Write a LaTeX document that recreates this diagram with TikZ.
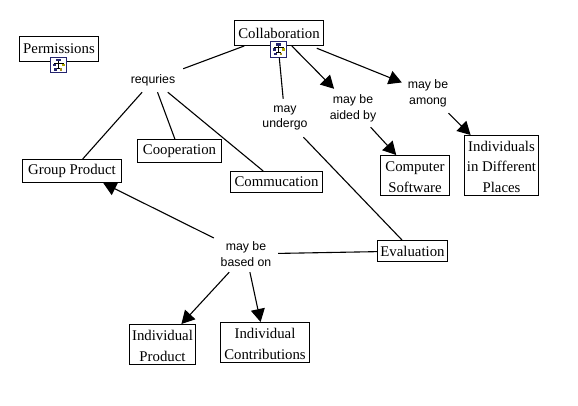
\documentclass[tikz,border=0pt]{standalone}
\usepackage{fontspec}
\setmainfont{Liberation Serif}
\newfontfamily\lblfont{Liberation Sans}
\usetikzlibrary{arrows.meta}
\definecolor{iconnavy}{RGB}{36,36,110}
\tikzset{
  x=1pt,y=-1pt,
  concept/.style={draw=black,line width=1pt,fill=white,inner sep=0pt,align=center,font=\fontsize{14.8}{20.5}\selectfont},
  linker/.style={inner sep=0pt,align=center,font=\lblfont\fontsize{12.3}{15.8}\selectfont},
  conn/.style={line width=1.1pt,black},
  arr/.style={conn,-{Triangle[length=13pt,width=14pt]}},
  iconbox/.style={draw=iconnavy,line width=0.9pt,fill=white,minimum width=15.5pt,minimum height=15.5pt,inner sep=0pt},
}
\newcommand{\topfix}{\rule{0pt}{13pt}}
\newcommand{\treeicon}[1]{%
  \begin{scope}[shift={(#1)}]
    \fill[iconnavy] (-2.5,-6) rectangle (2.5,-3.5);
    \draw[black,line width=0.5pt] (0,-3.5) -- (0,3) (-4.5,-1) -- (-4.5,-2.2) -- (4.5,-2.2) -- (4.5,-1) (-2.5,3) -- (2.5,3);
    \fill[iconnavy] (-6,-1) rectangle (-3,1.5);
    \fill[olive!70!yellow] (3,-1) rectangle (6,1.5);
    \fill[iconnavy] (-4.5,3.2) rectangle (-1.8,5.6);
    \fill[olive!60!brown] (1.2,3.2) rectangle (3.9,5.6);
  \end{scope}}
\begin{document}
\begin{tikzpicture}
\useasboundingbox (0,0) rectangle (578,406);
\fill[white] (0,0) rectangle (578,406);
% concepts
\node[concept,minimum width=79pt,minimum height=25pt] (perm) at (59,49) {Permissions};
\node[concept,minimum width=89pt,minimum height=25pt] (collab) at (279,33) {Collaboration};
\node[concept,minimum width=84pt,minimum height=23pt] (coop) at (179.5,151.5) {Cooperation};
\node[concept,minimum width=99pt,minimum height=23pt] (group) at (72,171) {Group Product};
\node[concept,minimum width=92pt,minimum height=21pt] (commu) at (276.5,182) {Commucation};
\node[concept,minimum width=69pt,minimum height=40pt] (soft) at (415,175.5) {\topfix Computer\\Software};
\node[concept,minimum width=74pt,minimum height=60pt] (places) at (501.5,165.5) {\topfix Individuals\\in Different\\Places};
\node[concept,minimum width=70pt,minimum height=21pt] (eval) at (412.5,251) {Evaluation};
\node[concept,minimum width=66pt,minimum height=40pt] (iprod) at (162.5,344.5) {\topfix Individual\\Product};
\node[concept,minimum width=89pt,minimum height=40pt] (icontr) at (265,342.5) {\topfix Individual\\Contributions};
% expand icons
\node[iconbox] (permicon) at (58.5,65) {};
\treeicon{58.5,65}
\node[iconbox] (collabicon) at (278.5,49.5) {};
\treeicon{278.5,49.5}
% linking phrases
\node[linker,minimum width=60pt,minimum height=24pt] (req) at (153,80) {requries};
\node[linker,minimum width=50pt,minimum height=38pt] (undergo) at (285,118) {may\\undergo};
\node[linker,minimum width=50pt,minimum height=38pt] (aided) at (353,108) {may be\\aided by};
\node[linker,minimum width=52pt,minimum height=40pt] (among) at (428,93) {may be\\among};
\node[linker,minimum width=64pt,minimum height=36pt] (based) at (246,254) {may be\\based on};
% connectors
\draw[conn] (collab) -- (req);
\draw[conn] (req) -- (group);
\draw[conn] (req) -- (coop);
\draw[conn] (req) -- (commu);
\draw[conn] (collabicon) -- (undergo);
\draw[conn] (undergo) -- (eval);
\draw[arr] (collab) -- (aided);
\draw[arr] (aided) -- (soft);
\draw[arr,shorten <=6pt] (collab) -- (among);
\draw[arr] (among) -- (places);
\draw[conn] (eval) -- (based);
\draw[arr] (based) -- (group.-21.6);
\draw[arr] (based) -- (iprod);
\draw[arr] (based) -- (icontr);
\end{tikzpicture}
\end{document}
